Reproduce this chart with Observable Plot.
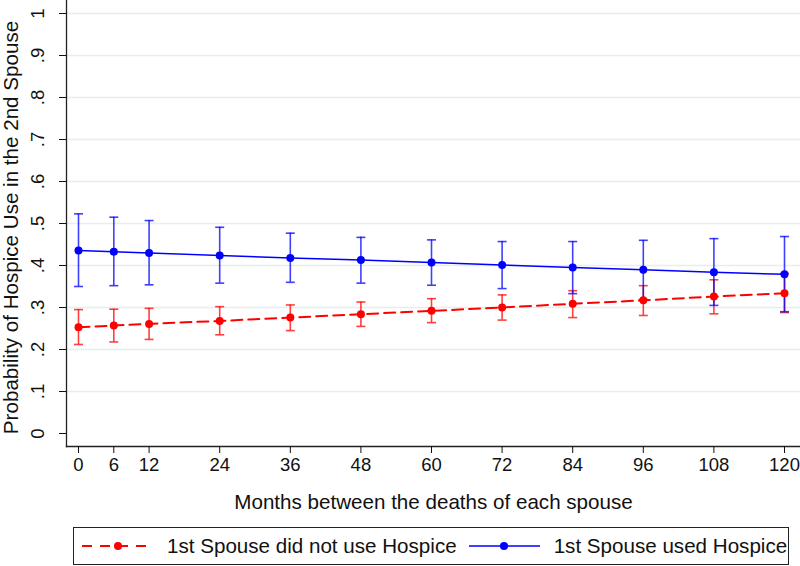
<!DOCTYPE html>
<html><head><meta charset="utf-8">
<script src="https://cdn.jsdelivr.net/npm/d3@7"></script>
<script src="https://cdn.jsdelivr.net/npm/@observablehq/plot@0.6"></script>
<style>
body{margin:0;background:#fff;width:800px;height:566px;overflow:hidden;position:relative;font-family:"Liberation Sans",Arial,sans-serif;}
#legend{position:absolute;left:73px;top:527px;height:38px;width:716px;border:1.5px solid #222;box-sizing:border-box;display:flex;align-items:center;white-space:nowrap;font-size:20.6px;color:#111;padding-left:8px;overflow:visible;}
#legend svg{flex:none;display:block}
</style></head>
<body>
<div id="chart"></div>
<div id="legend"></div>
<script>
const months = [0, 6, 12, 24, 36, 48, 60, 72, 84, 96, 108, 120];
const seriesNames = ["1st Spouse did not use Hospice", "1st Spouse used Hospice"];
const seriesColors = ["#ff0000", "#0000ff"];
// 1st Spouse did not use Hospice
const noHospice = [0.253, 0.257, 0.261, 0.268, 0.276, 0.284, 0.292, 0.300, 0.309, 0.317, 0.326, 0.334];
const noHospiceLo = [0.212, 0.218, 0.224, 0.235, 0.245, 0.255, 0.264, 0.270, 0.276, 0.281, 0.285, 0.288];
const noHospiceHi = [0.295, 0.296, 0.298, 0.302, 0.306, 0.313, 0.321, 0.330, 0.340, 0.352, 0.366, 0.381];
// 1st Spouse used Hospice
const usedHospice = [0.436, 0.433, 0.430, 0.424, 0.418, 0.413, 0.407, 0.401, 0.395, 0.390, 0.384, 0.379];
const usedHospiceLo = [0.350, 0.352, 0.354, 0.358, 0.360, 0.358, 0.353, 0.345, 0.333, 0.319, 0.305, 0.290];
const usedHospiceHi = [0.523, 0.515, 0.507, 0.491, 0.477, 0.467, 0.461, 0.457, 0.457, 0.460, 0.464, 0.469];
const yTicks = [0, 0.1, 0.2, 0.3, 0.4, 0.5, 0.6, 0.7, 0.8, 0.9, 1];
const gridTicks = [0.1, 0.2, 0.3, 0.4, 0.5, 0.6, 0.7, 0.8, 0.9, 1];
const xTitle = "Months between the deaths of each spouse";
const yTitle = "Probability of Hospice Use in the 2nd Spouse";

const rows = [];
months.forEach((m, i) => {
  rows.push({m, s: seriesNames[0], p: noHospice[i], lo: noHospiceLo[i], hi: noHospiceHi[i]});
  rows.push({m, s: seriesNames[1], p: usedHospice[i], lo: usedHospiceLo[i], hi: usedHospiceHi[i]});
});
const red = rows.filter(d => d.s === seriesNames[0]);
const blue = rows.filter(d => d.s === seriesNames[1]);

const capSymbol = {draw(ctx, size) { const w = 4.5; ctx.moveTo(-w, 0); ctx.lineTo(w, 0); }};
const fmt = d => d === 0 ? "0" : d === 1 ? "1" : d3.format(".1f")(d).replace(/^0/, "");
const font = "'Liberation Sans', Arial, sans-serif";

const errMarks = (data, color) => [
  Plot.ruleX(data, {x: "m", y1: "lo", y2: "hi", stroke: color, strokeWidth: 1.6, strokeOpacity: 0.75}),
  Plot.dot(data, {x: "m", y: "lo", symbol: capSymbol, stroke: color, strokeWidth: 1.6, strokeOpacity: 0.75, r: 4}),
  Plot.dot(data, {x: "m", y: "hi", symbol: capSymbol, stroke: color, strokeWidth: 1.6, strokeOpacity: 0.75, r: 4})
];

const chart = Plot.plot({
  width: 800,
  height: 520,
  marginLeft: 66,
  marginRight: 0,
  marginTop: 0,
  marginBottom: 74,
  style: {fontFamily: font, fontSize: "18.5px", color: "#111", background: "#fff"},
  x: {domain: [0, 120], insetLeft: 12, insetRight: 16},
  y: {domain: [0, 1], insetTop: 13, insetBottom: 13},
  marks: [
    Plot.ruleY(gridTicks, {stroke: "#e7eef0", strokeWidth: 1.5}),
    Plot.frame({anchor: "left", stroke: "#222", strokeWidth: 1.3}),
    Plot.frame({anchor: "bottom", stroke: "#222", strokeWidth: 1.3}),
    Plot.axisY({ticks: yTicks, tickFormat: fmt, tickSize: 7, tickPadding: 21, tickRotate: -90, textAnchor: "middle", lineAnchor: "middle",
      label: null, fontSize: 18.5}),
    Plot.axisX({ticks: months, tickSize: 7, tickPadding: 4, label: null, fontSize: 18.5}),
    Plot.text([yTitle], {frameAnchor: "left", text: d => d, rotate: -90, dx: -55, dy: 4, textAnchor: "middle", lineAnchor: "middle", fontSize: 20.6, fill: "#111"}),
    Plot.text([xTitle], {frameAnchor: "bottom", text: d => d, dy: 62, lineAnchor: "bottom", fontSize: 20.6, fill: "#111"}),
    ...errMarks(red, seriesColors[0]),
    ...errMarks(blue, seriesColors[1]),
    Plot.line(red, {x: "m", y: "p", stroke: seriesColors[0], strokeWidth: 2, strokeDasharray: "11,6"}),
    Plot.line(blue, {x: "m", y: "p", stroke: seriesColors[1], strokeWidth: 1.5}),
    Plot.dot(red, {x: "m", y: "p", fill: seriesColors[0], r: 4}),
    Plot.dot(blue, {x: "m", y: "p", fill: seriesColors[1], r: 4})
  ]
});
document.getElementById("chart").appendChild(chart);

const legend = document.getElementById("legend");
const swatchW = [66, 71];
const gaps = [[0, 19], [12, 14]];
seriesNames.forEach((name, i) => {
  const ns = "http://www.w3.org/2000/svg";
  const svg = document.createElementNS(ns, "svg");
  const w = swatchW[i];
  svg.setAttribute("width", w); svg.setAttribute("height", 12);
  svg.style.marginLeft = gaps[i][0] + "px";
  svg.style.marginRight = gaps[i][1] + "px";
  const line = document.createElementNS(ns, "line");
  line.setAttribute("x1", 0); line.setAttribute("x2", w); line.setAttribute("y1", 6); line.setAttribute("y2", 6);
  line.setAttribute("stroke", seriesColors[i]); line.setAttribute("stroke-width", i === 0 ? 1.8 : 1.5);
  if (i === 0) line.setAttribute("stroke-dasharray", "10,8");
  const c = document.createElementNS(ns, "circle");
  c.setAttribute("cx", i === 0 ? 36 : 35); c.setAttribute("cy", 6); c.setAttribute("r", 4); c.setAttribute("fill", seriesColors[i]);
  svg.appendChild(line); svg.appendChild(c);
  const span = document.createElement("span"); span.textContent = name;
  legend.appendChild(svg); legend.appendChild(span);
});
</script>
</body></html>
